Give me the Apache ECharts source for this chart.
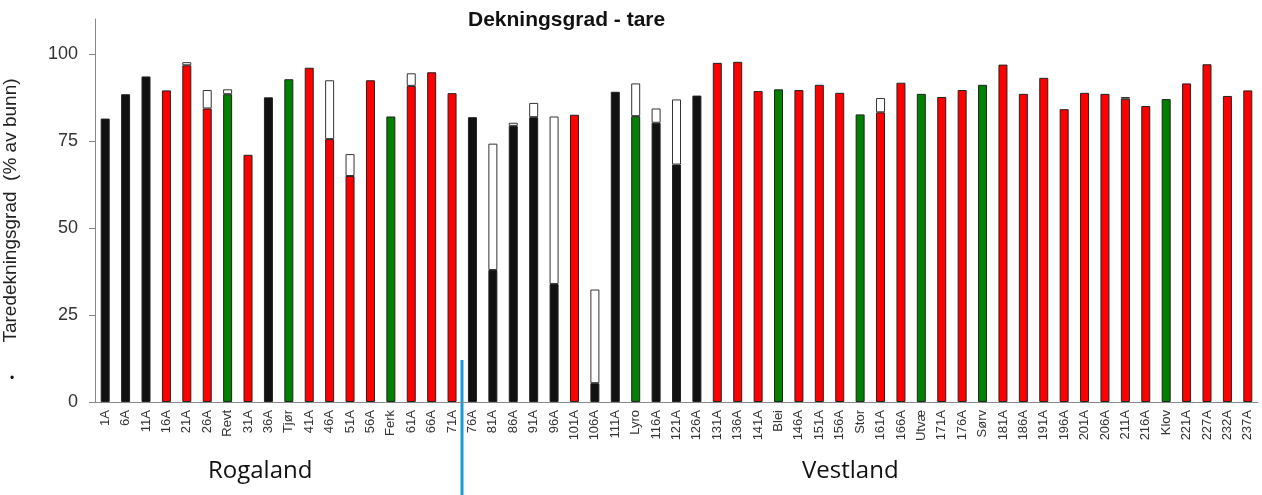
<!DOCTYPE html>
<html>
<head>
<meta charset="utf-8">
<title>Dekningsgrad - tare</title>
<script src="https://cdn.jsdelivr.net/npm/echarts@6.0.0/dist/echarts.min.js"></script>
<style>
  html, body { margin: 0; padding: 0; background: #fff; }
  #chart { width: 1262px; height: 495px; }
</style>
</head>
<body>
<div id="chart"></div>
<script>
// stasjoner langs kysten
const stations = ['1A', '6A', '11A', '16A', '21A', '26A', 'Revt', '31A', '36A', 'Tjør',
  '41A', '46A', '51A', '56A', 'Ferk', '61A', '66A', '71A', '76A', '81A',
  '86A', '91A', '96A', '101A', '106A', '111A', 'Lyro', '116A', '121A', '126A',
  '131A', '136A', '141A', 'Blei', '146A', '151A', '156A', 'Stor', '161A', '166A',
  'Utvæ', '171A', '176A', 'Sørv', '181A', '186A', '191A', '196A', '201A', '206A',
  '211A', '216A', 'Klov', '221A', '227A', '232A', '237A'];

// k = svart, r = rød, g = grønn
const stationClass = ['k', 'k', 'k', 'r', 'r', 'r', 'g', 'r', 'k', 'g',
  'r', 'r', 'r', 'r', 'g', 'r', 'r', 'r', 'k', 'k',
  'k', 'k', 'k', 'r', 'k', 'k', 'g', 'k', 'k', 'k',
  'r', 'r', 'r', 'g', 'r', 'r', 'r', 'g', 'r', 'r',
  'g', 'r', 'r', 'g', 'r', 'r', 'r', 'r', 'r', 'r',
  'r', 'r', 'g', 'r', 'r', 'r', 'r'];

// dekningsgrad (fylt del)
const coverBase = [81.4, 88.4, 93.5, 89.5, 96.7, 84.3, 88.4, 71.0, 87.5, 92.7,
  96.0, 75.5, 64.9, 92.4, 82.0, 90.8, 94.7, 88.7, 81.8, 37.9,
  79.3, 81.8, 33.9, 82.5, 5.4, 89.1, 82.1, 80.2, 68.2, 88.0,
  97.4, 97.7, 89.3, 89.8, 89.6, 91.1, 88.8, 82.6, 83.2, 91.7,
  88.5, 87.6, 89.6, 91.1, 96.9, 88.5, 93.1, 84.1, 88.8, 88.5,
  87.1, 85.0, 87.0, 91.5, 97.0, 87.9, 89.5];

// toppen av hvit del (null = ingen)
const coverTotal = [null, null, null, null, 97.6, 89.6, 89.8, null, null, null,
  null, 92.4, 71.2, null, null, 94.4, null, null, null, 74.2,
  80.2, 85.9, 82.0, null, 32.3, null, 91.5, 84.3, 86.9, null,
  null, null, null, null, null, null, null, null, 87.3, null,
  null, null, null, null, null, null, null, null, null, null,
  87.6, null, null, null, null, null, null];

const yTicks = [0, 25, 50, 75, 100];

const classColor = { k: '#111111', r: '#ff0000', g: '#008000' };

const chart = echarts.init(document.getElementById('chart'));

const baseData = coverBase.map((v, i) => ({
  value: v,
  itemStyle: { color: classColor[stationClass[i]] }
}));
const upperData = coverTotal.map((t, i) =>
  t == null ? '-' : +(t - coverBase[i]).toFixed(1));

const option = {
  animation: false,
  title: {
    text: 'Dekningsgrad - tare',
    left: 468,
    top: 10,
    padding: 0,
    textStyle: { fontSize: 21, fontWeight: 'bold', color: '#111', fontFamily: 'Liberation Sans' }
  },
  grid: { left: 95, right: 4, top: 19, bottom: 93, outerBoundsMode: 'none' },
  xAxis: {
    type: 'category',
    data: stations,
    axisLine: { lineStyle: { color: '#888', width: 1 } },
    axisTick: { length: 5, lineStyle: { color: '#888' } },
    axisLabel: {
      interval: 0,
      rotate: 90,
      fontSize: 13,
      color: '#333',
      margin: 8,
      fontFamily: 'Liberation Sans'
    }
  },
  yAxis: {
    type: 'value',
    min: 0,
    max: 110,
    interval: 25,
    name: 'Taredekningsgrad  (% av bunn)',
    nameLocation: 'middle',
    nameRotate: 90,
    nameGap: 75,
    nameTextStyle: { fontSize: 19, color: '#222', fontFamily: 'Liberation Sans' },
    axisLine: { show: true, lineStyle: { color: '#888' } },
    axisTick: { show: true, length: 6, customValues: yTicks, lineStyle: { color: '#888' } },
    axisLabel: { customValues: yTicks, fontSize: 18, color: '#333', margin: 17, fontFamily: 'Liberation Sans' },
    splitLine: { show: false }
  },
  series: [
    {
      type: 'bar',
      stack: 'dek',
      barWidth: 9,
      data: baseData,
      itemStyle: { borderColor: '#222', borderWidth: 1 }
    },
    {
      type: 'bar',
      stack: 'dek',
      barWidth: 9,
      data: upperData,
      itemStyle: { color: '#fff', borderColor: '#333', borderWidth: 1 }
    }
  ],
  graphic: [
    {
      type: 'line',
      shape: { x1: 462, y1: 360, x2: 462, y2: 495 },
      style: { stroke: '#1a9ad6', lineWidth: 3 }
    },
    {
      type: 'text',
      left: 208,
      top: 459,
      style: { text: 'Rogaland', font: '24px "Open Sans"', fill: '#111' }
    },
    {
      type: 'text',
      left: 802,
      top: 459,
      style: { text: 'Vestland', font: '24px "Open Sans"', fill: '#111' }
    },
    {
      type: 'text',
      left: 10,
      top: 373,
      style: { text: '•', font: '12px "Liberation Sans"', fill: '#111' }
    }
  ]
};

chart.setOption(option);
</script>
</body>
</html>
